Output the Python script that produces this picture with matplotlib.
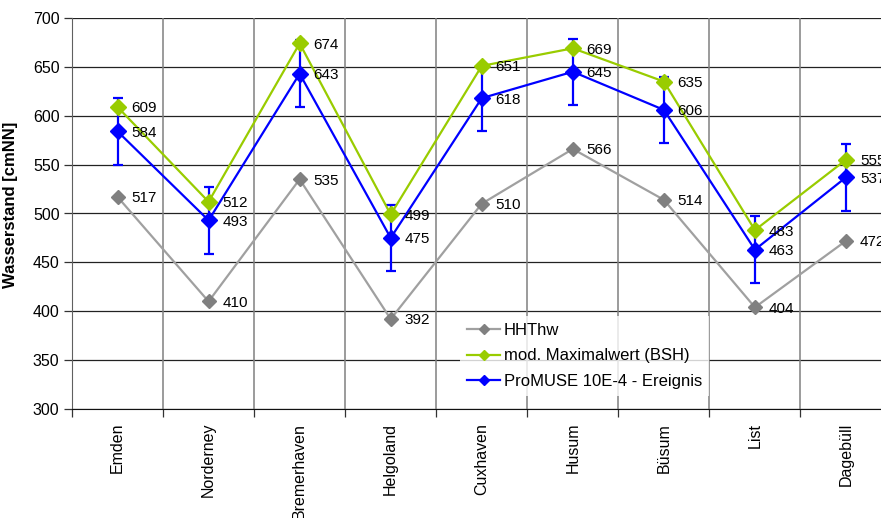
import matplotlib
matplotlib.use("Agg")
import matplotlib.pyplot as plt
from matplotlib.lines import Line2D
import numpy as np

plt.rcParams['font.family'] = ['Liberation Sans', 'DejaVu Sans']

stations = ["Emden", "Norderney", "Bremerhaven", "Helgoland", "Cuxhaven",
            "Husum", "Büsum", "List", "Dagebüll"]
hhthw = [517, 410, 535, 392, 510, 566, 514, 404, 472]
mod_max = [609, 512, 674, 499, 651, 669, 635, 483, 555]
promuse = [584, 493, 643, 475, 618, 645, 606, 463, 537]
promuse_err = [34, 34, 34, 34, 34, 34, 34, 34, 34]
series_names = ["HHThw", "mod. Maximalwert (BSH)", "ProMUSE 10E-4 - Ereignis"]
y_ticks = [300, 350, 400, 450, 500, 550, 600, 650, 700]

W, H = 881, 518
fig = plt.figure(figsize=(W / 100, H / 100), dpi=100)
left_px, right_px, top_px, bottom_px = 72, 891.5, 18, 409
ax = fig.add_axes([left_px / W, (H - bottom_px) / H,
                   (right_px - left_px) / W, (bottom_px - top_px) / H])

x = np.arange(len(stations))
grey_m = "#808080"
grey_l = "#a0a0a0"
green = "#99cc00"
blue = "#0000ff"

ax.plot(x, hhthw, color=grey_l, lw=1.6, zorder=3)
ax.plot(x, hhthw, ls="none", marker="D", ms=7.2, color=grey_m, mec=grey_m, zorder=3.1)

ax.errorbar(x, promuse, yerr=promuse_err, fmt="none", ecolor=blue,
            elinewidth=1.6, capsize=3.5, capthick=1.6, zorder=3.3)
ax.plot(x, mod_max, color=green, lw=1.6, marker="D", ms=8.5, mec=green, zorder=3.5)
ax.plot(x, promuse, color=blue, lw=1.6, marker="D", ms=8.5, mec=blue, zorder=3.6)

for series in (hhthw, mod_max, promuse):
    for xi, v in zip(x, series):
        ax.annotate(str(v), (xi, v), xytext=(10, -1), textcoords="offset points",
                    ha="left", va="center", fontsize=11, color="black",
                    zorder=5, annotation_clip=False)

ax.set_xlim(-0.5, len(stations) - 0.5)
ax.set_ylim(300, 700)
ax.set_yticks(y_ticks)
ax.set_yticklabels([str(t) for t in y_ticks], fontsize=11.5)
ax.yaxis.grid(True, color="#222222", lw=0.9, zorder=1)
ax.set_axisbelow(True)

# category boundaries as ticks and vertical grid lines
bounds = np.arange(len(stations) + 1) - 0.5
ax.set_xticks(bounds)
ax.set_xticklabels([])
ax.tick_params(axis="x", length=6, width=0.9, color="#333333", direction="out")
ax.tick_params(axis="y", length=6, width=0.9, color="#333333", direction="out", pad=3)
for b in bounds[1:-1]:
    ax.axvline(b, color="#808080", lw=1.1, zorder=1)
ax.set_xticks(x, minor=True)
ax.set_xticklabels(stations, minor=True, rotation=90, fontsize=11.5, va="top", ha="center")
ax.tick_params(axis="x", which="minor", length=0, pad=10)

for s in ["top", "right"]:
    ax.spines[s].set_visible(False)
ax.spines["left"].set_color("#606060")
ax.spines["bottom"].set_color("#111111")

ax.set_ylabel("Wasserstand [cmNN]", fontsize=12, fontweight="bold")
ax.yaxis.set_label_coords((18 - left_px) / (right_px - left_px),
                          (bottom_px - 205) / (bottom_px - top_px))

handles = [
    Line2D([], [], color=grey_l, lw=1.6, marker="D", ms=5, mfc=grey_m, mec=grey_m),
    Line2D([], [], color=green, lw=1.6, marker="D", ms=5, mfc=green, mec=green),
    Line2D([], [], color=blue, lw=1.6, marker="D", ms=5, mfc=blue, mec=blue),
]
leg = fig.legend(handles, series_names, loc="upper left",
                 bbox_to_anchor=(460 / W, (H - 316) / H), frameon=True,
                 fontsize=12, handlelength=2.0, handletextpad=0.2,
                 labelspacing=0.62, borderpad=0.42, borderaxespad=0,
                 fancybox=False)
leg.get_frame().set_facecolor("white")
leg.get_frame().set_edgecolor("none")
leg.set_zorder(10)

fig.savefig("out.png", dpi=100)
